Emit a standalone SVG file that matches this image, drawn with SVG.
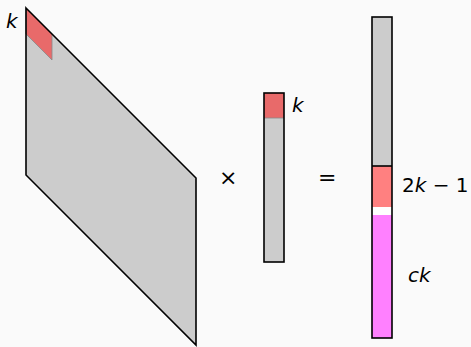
<svg xmlns="http://www.w3.org/2000/svg" width="471" height="347" viewBox="0 0 471 347">
<style>
.lbl{font-family:"DejaVu Sans","Liberation Sans",sans-serif;font-size:20px;fill:#000}
.it{font-style:italic}
.op{font-size:22px}
.out{fill:none;stroke:#000;stroke-width:1.6}
</style>
<rect width="471" height="347" fill="#fafafa"/>
<g id="matrix">
<polygon points="26,8 196,178 196,345 26,175" fill="#cccccc"/>
<polygon points="26,8 52,34 52,60 26,34" fill="#e86a6a" stroke="#888" stroke-width="0.8"/>
<polygon points="26,8 196,178 196,345 26,175" class="out"/>
</g>
<g id="vector">
<rect x="264" y="93" width="20" height="169" fill="#cccccc"/>
<rect x="264" y="93" width="20" height="25" fill="#e86a6a"/>
<line x1="264" y1="118" x2="284" y2="118" stroke="#888" stroke-width="0.8"/>
<rect x="264" y="93" width="20" height="169" class="out" stroke-width="2"/>
</g>
<g id="result">
<rect x="372" y="17" width="20" height="149" fill="#cccccc"/>
<rect x="372" y="166" width="20" height="41" fill="#ff8080"/>
<rect x="372" y="207" width="20" height="8" fill="#ffffff"/>
<rect x="372" y="215" width="20" height="123" fill="#ff80ff"/>
<line x1="372" y1="166" x2="392" y2="166" stroke="#000" stroke-width="1.6"/>
<rect x="372" y="17" width="20" height="321" class="out" stroke-width="2"/>
</g>
<g id="labels">
<text class="lbl it" x="6" y="28">k</text>
<text class="lbl it" x="292" y="112">k</text>
<text class="lbl op" x="219" y="185">×</text>
<text class="lbl op" x="318" y="185">=</text>
<text class="lbl" x="402" y="192">2<tspan class="it">k</tspan> − 1</text>
<text class="lbl it" x="408" y="282">ck</text>
</g>
</svg>
